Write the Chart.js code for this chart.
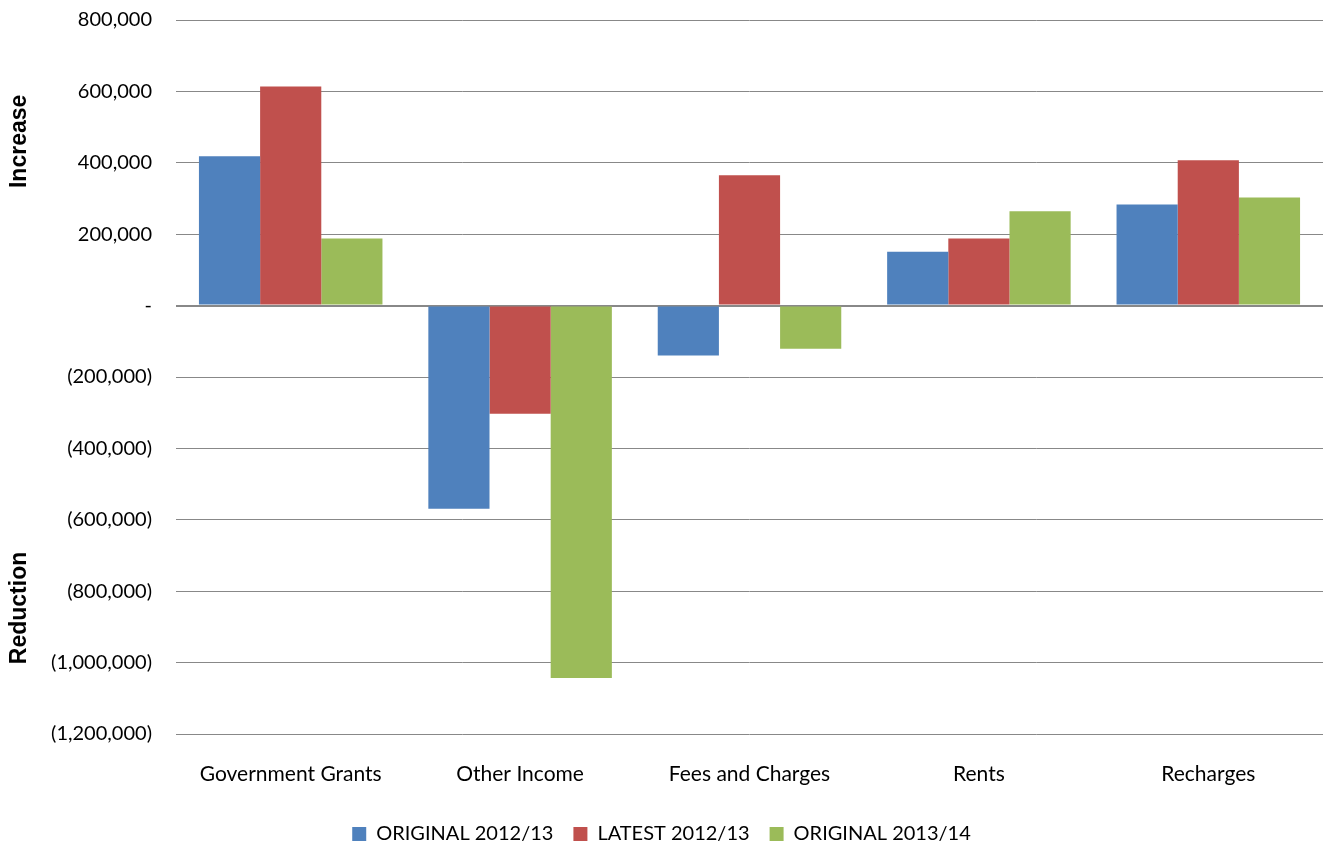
<!DOCTYPE html>
<html>
<head>
<meta charset="utf-8">
<script src="https://cdn.jsdelivr.net/npm/chart.js@4/dist/chart.umd.min.js"></script>
<style>
  html, body { margin: 0; padding: 0; background: #fff; overflow: hidden; }
  #wrap { width: 1324px; height: 862px; position: relative; top: -16px; }
</style>
</head>
<body>
<div id="wrap"><canvas id="myChart"></canvas></div>
<script>
// categories and series
const categories = ["Government Grants", "Other Income", "Fees and Charges", "Rents", "Recharges"];
const original1213 = [418000, -569000, -140000, 151000, 283000];
const latest1213 = [614000, -303000, 365000, 188000, 407000];
const original1314 = [188000, -1043000, -121000, 264000, 303000];
const seriesNames = ["ORIGINAL 2012/13", "LATEST 2012/13", "ORIGINAL 2013/14"];
const seriesColors = ["#4F81BD", "#C0504D", "#9BBB59"];
const yMin = -1200000, yMax = 800000, yStep = 200000;

function formatTick(value) {
    if (value === 0) return "-";
    let s = Math.abs(value).toLocaleString("en-US");
    return value < 0 ? "(" + s + ")" : s;
}

// side titles "Increase" / "Reduction"
const sideTitles = {
    id: "sideTitles",
    afterDraw(chart) {
        const ctx = chart.ctx;
        const y = chart.scales.y;
        ctx.save();
        ctx.font = "bold 23px 'Liberation Sans', Arial, sans-serif";
        ctx.fillStyle = "#000";
        ctx.textAlign = "center";
        ctx.textBaseline = "middle";
        let items = [["Increase", y.getPixelForValue(460000)], ["Reduction", y.getPixelForValue(-847000)]];
        for (let [txt, py] of items) {
            ctx.save();
            ctx.translate(20, py);
            ctx.rotate(-Math.PI / 2);
            ctx.fillText(txt, 0, 0);
            ctx.restore();
        }
        ctx.restore();
    }
};

const ctx = document.getElementById('myChart').getContext('2d');
new Chart(ctx, {
    type: 'bar',
    data: {
        labels: categories,
        datasets: [original1213, latest1213, original1314].map((vals, i) => ({
            label: seriesNames[i],
            data: vals,
            backgroundColor: seriesColors[i],
            borderWidth: 0,
            categoryPercentage: 0.8,
            barPercentage: 1.0
        }))
    },
    options: {
        responsive: true,
        maintainAspectRatio: false,
        animation: false,
        layout: { padding: { top: 2, right: 1, left: 0, bottom: -8 } },
        plugins: {
            legend: {
                position: 'bottom',
                labels: {
                    boxWidth: 14,
                    boxHeight: 14,
                    padding: 20,
                    color: "#000",
                    font: { family: "Lato, 'Open Sans', sans-serif", size: 20 }
                }
            },
            tooltip: { enabled: false }
        },
        scales: {
            x: {
                grid: { display: false, drawTicks: false },
                border: { display: false },
                ticks: {
                    color: "#000",
                    padding: 28,
                    maxRotation: 0,
                    font: { family: "Lato, 'Open Sans', sans-serif", size: 21 }
                },
                afterFit(scale) { scale.height = 70; }
            },
            y: {
                min: yMin,
                max: yMax,
                grid: {
                    color: "#888888",
                    lineWidth: c => c.tick && c.tick.value === 0 ? 2 : 1,
                    drawTicks: false
                },
                border: { display: false },
                ticks: {
                    stepSize: yStep,
                    color: "#000",
                    padding: 24,
                    font: { family: "Lato, 'Open Sans', sans-serif", size: 20 },
                    callback: v => formatTick(v)
                },
                afterFit(scale) { scale.width = 176; }
            }
        }
    },
    plugins: [sideTitles]
});
</script>
</body>
</html>
